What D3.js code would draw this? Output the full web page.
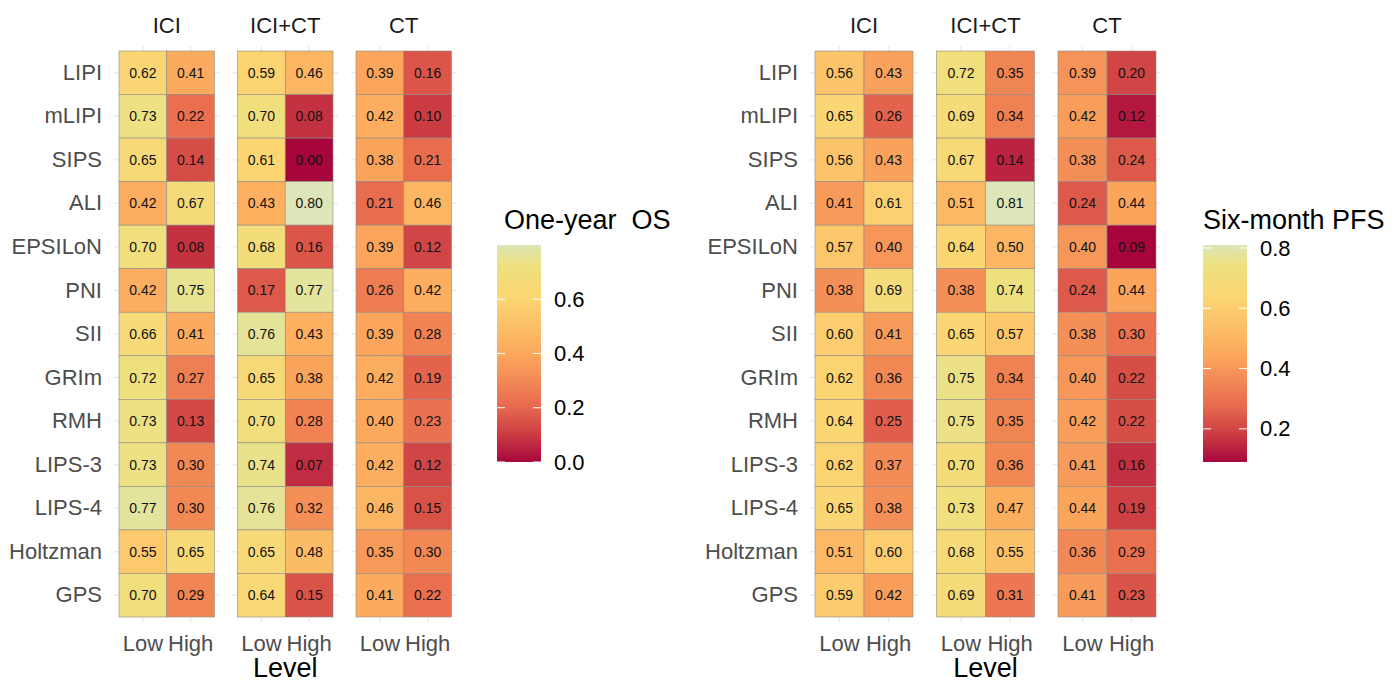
<!DOCTYPE html>
<html>
<head>
<meta charset="utf-8">
<script src="https://cdn.jsdelivr.net/npm/d3@7"></script>
<style>
  html, body { margin: 0; padding: 0; background: #fff; }
  svg { display: block; font-family: Arial, "Liberation Sans", sans-serif; }
  .cell-txt { font-size: 14px; fill: #111; }
</style>
</head>
<body>
<svg id="chart" width="1392" height="684"></svg>
<script>
// rows, facets, levels
const scores = ['LIPI', 'mLIPI', 'SIPS', 'ALI', 'EPSILoN', 'PNI', 'SII', 'GRIm', 'RMH', 'LIPS-3', 'LIPS-4', 'Holtzman', 'GPS'];
const groups = ['ICI', 'ICI+CT', 'CT'];
const levels = ['Low', 'High'];

// One-year OS
const osIciLow    = [0.62, 0.73, 0.65, 0.42, 0.70, 0.42, 0.66, 0.72, 0.73, 0.73, 0.77, 0.55, 0.70];
const osIciHigh   = [0.41, 0.22, 0.14, 0.67, 0.08, 0.75, 0.41, 0.27, 0.13, 0.30, 0.30, 0.65, 0.29];
const osComboLow  = [0.59, 0.70, 0.61, 0.43, 0.68, 0.17, 0.76, 0.65, 0.70, 0.74, 0.76, 0.65, 0.64];
const osComboHigh = [0.46, 0.08, 0.00, 0.80, 0.16, 0.77, 0.43, 0.38, 0.28, 0.07, 0.32, 0.48, 0.15];
const osCtLow     = [0.39, 0.42, 0.38, 0.21, 0.39, 0.26, 0.39, 0.42, 0.40, 0.42, 0.46, 0.35, 0.41];
const osCtHigh    = [0.16, 0.10, 0.21, 0.46, 0.12, 0.42, 0.28, 0.19, 0.23, 0.12, 0.15, 0.30, 0.22];

// Six-month PFS
const pfsIciLow    = [0.56, 0.65, 0.56, 0.41, 0.57, 0.38, 0.60, 0.62, 0.64, 0.62, 0.65, 0.51, 0.59];
const pfsIciHigh   = [0.43, 0.26, 0.43, 0.61, 0.40, 0.69, 0.41, 0.36, 0.25, 0.37, 0.38, 0.60, 0.42];
const pfsComboLow  = [0.72, 0.69, 0.67, 0.51, 0.64, 0.38, 0.65, 0.75, 0.75, 0.70, 0.73, 0.68, 0.69];
const pfsComboHigh = [0.35, 0.34, 0.14, 0.81, 0.50, 0.74, 0.57, 0.34, 0.35, 0.36, 0.47, 0.55, 0.31];
const pfsCtLow     = [0.39, 0.42, 0.38, 0.24, 0.40, 0.24, 0.38, 0.40, 0.42, 0.41, 0.44, 0.36, 0.41];
const pfsCtHigh    = [0.20, 0.12, 0.24, 0.44, 0.09, 0.44, 0.30, 0.22, 0.22, 0.16, 0.19, 0.29, 0.23];

const osTicks = [0.0, 0.2, 0.4, 0.6];
const pfsTicks = [0.2, 0.4, 0.6, 0.8];

const svg = d3.select('#chart');

// flatten into tiles
const toCells = (cols) => {
  const out = [];
  groups.forEach((g, gi) => levels.forEach((l, li) => {
    cols[gi * 2 + li].forEach((v, ri) => out.push({ group: g, level: l, score: scores[ri], value: v }));
  }));
  return out;
};

const panels = [
  { cols: [osIciLow, osIciHigh, osComboLow, osComboHigh, osCtLow, osCtHigh], title: 'One-year  OS', ticks: osTicks,
    x0: 119, facetW: 95.5, gap: 23, legendX: 497, titleX: 504 },
  { cols: [pfsIciLow, pfsIciHigh, pfsComboLow, pfsComboHigh, pfsCtLow, pfsCtHigh], title: 'Six-month PFS', ticks: pfsTicks,
    x0: 815, facetW: 98, gap: 23.5, legendX: 1203, titleX: 1203 }
];

// palette stops (fraction of the data range)
const stopT = [0, 0.12, 0.26, 0.5, 0.75, 0.9, 0.96, 1];
const stopC = ['#a8053d', '#c93a42', '#e86b4e', '#fca95d', '#fcd572', '#efe07e', '#e3e49c', '#dde6b8'];

const Y0 = 51, Y1 = 617, EXP = 5;

panels.forEach((p, pi) => {
  const cells = toCells(p.cols);
  const ext = d3.extent(cells, d => d.value);
  const t = d3.scaleLinear().domain(ext).range([0, 1]);
  const palette = d3.scaleLinear().domain(stopT).range(stopC).interpolate(d3.interpolateRgb);
  const color = v => palette(t(v));

  const y = d3.scaleBand().domain(scores).range([Y0, Y1]);
  const fx = d3.scaleOrdinal().domain(groups).range(groups.map((g, i) => p.x0 + i * (p.facetW + p.gap)));
  const g = svg.append('g');

  groups.forEach(grp => {
    const left = fx(grp);
    const x = d3.scaleBand().domain(levels).range([left, left + p.facetW]);
    const fg = g.append('g');

    // grid
    fg.selectAll('.hg').data(scores).join('line')
      .attr('x1', left - EXP).attr('x2', left + p.facetW + EXP)
      .attr('y1', d => y(d) + y.bandwidth() / 2).attr('y2', d => y(d) + y.bandwidth() / 2)
      .attr('stroke', '#ebebeb').attr('stroke-width', 1.4);
    fg.selectAll('.vg').data(levels).join('line')
      .attr('x1', d => x(d) + x.bandwidth() / 2).attr('x2', d => x(d) + x.bandwidth() / 2)
      .attr('y1', Y0 - EXP).attr('y2', Y1 + EXP)
      .attr('stroke', '#ebebeb').attr('stroke-width', 1.4);

    const sub = cells.filter(d => d.group === grp);
    fg.selectAll('rect.tile').data(sub).join('rect')
      .attr('class', 'tile')
      .attr('x', d => x(d.level)).attr('y', d => y(d.score))
      .attr('width', x.bandwidth()).attr('height', y.bandwidth())
      .attr('fill', d => color(d.value))
      .attr('stroke', '#8f8a86').attr('stroke-width', 0.6);
    fg.selectAll('text.cell-txt').data(sub).join('text')
      .attr('class', 'cell-txt')
      .attr('x', d => x(d.level) + x.bandwidth() / 2)
      .attr('y', d => y(d.score) + y.bandwidth() / 2)
      .attr('text-anchor', 'middle').attr('dominant-baseline', 'central')
      .text(d => d.value.toFixed(2));

    // x labels
    fg.append('g')
      .attr('transform', `translate(0,${Y1 + EXP})`)
      .call(d3.axisBottom(x).tickSize(0).tickPadding(13))
      .call(a => a.select('.domain').remove())
      .selectAll('text').style('font-size', '22px').attr('fill', '#4d4d4d').attr('font-family', null);

    // strip
    fg.append('text')
      .attr('x', left + p.facetW / 2).attr('y', 33)
      .attr('text-anchor', 'middle').attr('font-size', 22).attr('fill', '#1a1a1a')
      .text(grp);
  });

  // y labels
  g.append('g')
    .attr('transform', `translate(${p.x0 - EXP},0)`)
    .call(d3.axisLeft(y).tickSize(0).tickPadding(12))
    .call(a => a.select('.domain').remove())
    .selectAll('text').style('font-size', '22px').attr('fill', '#4d4d4d').attr('font-family', null);

  // axis title
  const midX = fx('ICI+CT') + p.facetW / 2;
  g.append('text').attr('x', midX).attr('y', 677)
    .attr('text-anchor', 'middle').attr('font-size', 27).attr('fill', '#000')
    .text('Level');

  // legend
  const ly = d3.scaleLinear().domain(ext).range([462, 245]);
  const gradId = 'grad' + pi;
  const grad = svg.append('defs').append('linearGradient').attr('id', gradId)
    .attr('x1', 0).attr('x2', 0).attr('y1', 1).attr('y2', 0);
  d3.range(0, 1.0001, 0.05).forEach(s => {
    grad.append('stop').attr('offset', s).attr('stop-color', palette(s));
  });
  const lg = svg.append('g');
  lg.append('rect').attr('x', p.legendX).attr('y', 245).attr('width', 44).attr('height', 217)
    .attr('fill', `url(#${gradId})`);
  p.ticks.forEach(v => {
    const yy = ly(v);
    lg.append('line').attr('x1', p.legendX).attr('x2', p.legendX + 8).attr('y1', yy).attr('y2', yy)
      .attr('stroke', '#fff').attr('stroke-width', 1);
    lg.append('line').attr('x1', p.legendX + 36).attr('x2', p.legendX + 44).attr('y1', yy).attr('y2', yy)
      .attr('stroke', '#fff').attr('stroke-width', 1);
    lg.append('text').attr('x', p.legendX + 57).attr('y', yy)
      .attr('dominant-baseline', 'central').attr('font-size', 22).attr('fill', '#000')
      .text(d3.format('.1f')(v));
  });
  lg.append('text').attr('x', p.titleX).attr('y', 229)
    .attr('font-size', 27).attr('fill', '#000').style('white-space', 'pre')
    .text(p.title);
});
</script>
</body>
</html>
